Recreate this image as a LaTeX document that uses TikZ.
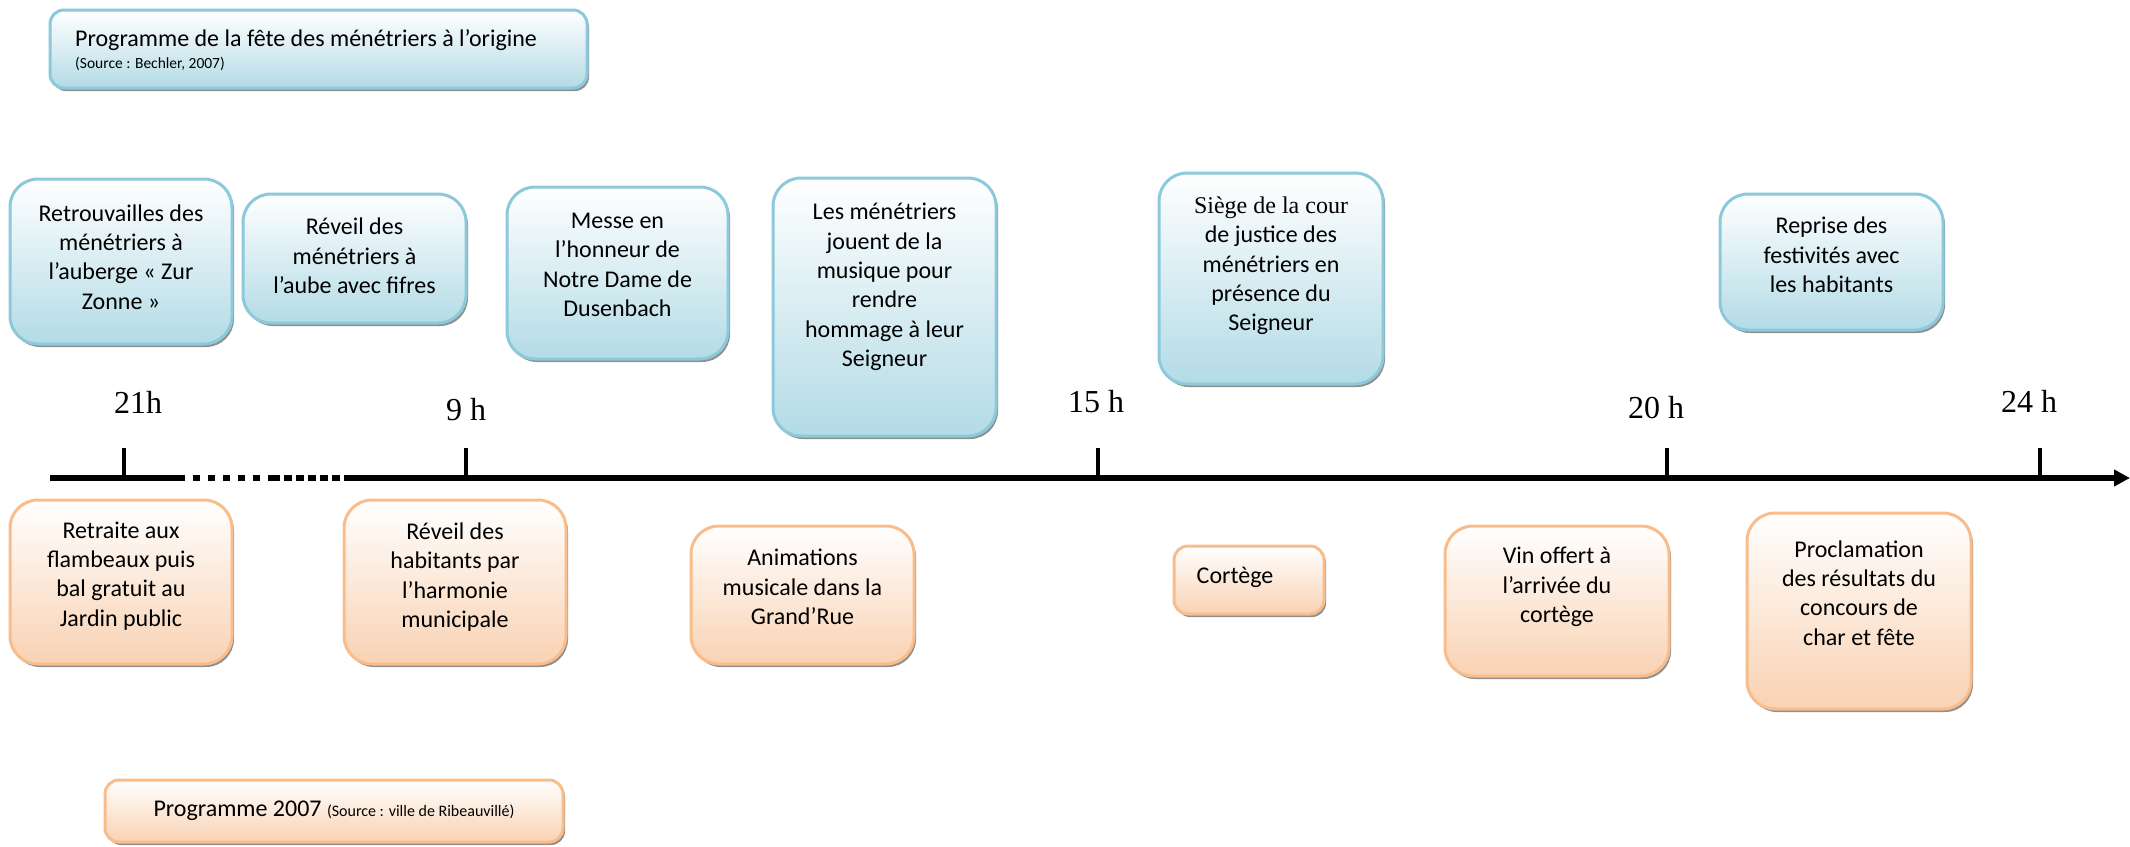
\documentclass[tikz,border=0pt]{standalone}
\usepackage{fontspec}
\setmainfont{Carlito}
\newfontfamily\tnr{Liberation Serif}
\usetikzlibrary{shadows,arrows.meta}
\definecolor{bborder}{HTML}{8CC9DA}
\definecolor{bfill}{HTML}{B3DBE6}
\definecolor{oborder}{HTML}{F9BD8C}
\definecolor{ofill}{HTML}{F9D2B3}
\tikzset{
 evbox/.style={rounded corners=28pt, line width=3pt, inner sep=0pt,
   drop shadow={shadow xshift=2pt, shadow yshift=-3pt, fill=black!55, opacity=0.8}},
 bluebox/.style={evbox, draw=bborder, top color=white, bottom color=bfill},
 orangebox/.style={evbox, draw=oborder, top color=white, bottom color=ofill},
 evtext/.style={align=center, font=\fontsize{24}{29.3}\selectfont, inner sep=0pt},
 timelabel/.style={font=\tnr\fontsize{32}{32}\selectfont, inner sep=0pt},
 tickmark/.style={line width=4pt},
 axisline/.style={line width=5.5pt},
}
\begin{document}
\begin{tikzpicture}[x=1pt,y=-1pt]
\useasboundingbox (0,0) rectangle (2130,846);

% title boxes
\node[bluebox, rounded corners=14pt, minimum width=537pt, minimum height=78pt] (tbox) at (318.5,49) {};
\node[anchor=west, inner sep=0pt, font=\fontsize{24}{27}\selectfont] (ttext) at (75,40) {Programme de la fête des ménétriers à l’origine};
\node[anchor=west, inner sep=0pt, font=\fontsize{15.5}{17}\selectfont] (tsrc) at (75,64) {(Source : Bechler, 2007)};

\node[orangebox, rounded corners=14pt, minimum width=458pt, minimum height=62pt] (pbox) at (334,811) {};
\node[inner sep=0pt] (ptext) at (334,811) {\fontsize{24}{28}\selectfont Programme 2007 \fontsize{16}{18}\selectfont(Source : ville de Ribeauvillé)};

% upper boxes
\node[bluebox, minimum width=222pt, minimum height=165pt] (b1) at (121,261.5) {};
\node[evtext] (t1) at (121,257) {Retrouvailles des\\ménétriers à\\l’auberge «~Zur\\Zonne~»};

\node[bluebox, minimum width=223pt, minimum height=129pt] (b2) at (354.5,258.5) {};
\node[evtext] (t2) at (354.5,256) {Réveil des\\ménétriers à\\l’aube avec fifres};

\node[bluebox, minimum width=221pt, minimum height=172pt] (b3) at (617.5,273) {};
\node[evtext] (t3) at (617.5,265) {Messe en\\l’honneur de\\Notre Dame de\\Dusenbach};

\node[bluebox, minimum width=223pt, minimum height=258pt] (b4) at (884.5,307) {};
\node[evtext] (t4) at (884.5,287) {Les ménétriers\\jouent de la\\musique pour\\rendre\\hommage à leur\\Seigneur};

\node[bluebox, minimum width=224pt, minimum height=211pt] (b5) at (1271,278.5) {};
\node[evtext] (t5) at (1271,266) {{\tnr Siège de la cour}\\de justice des\\ménétriers en\\présence du\\Seigneur};

\node[bluebox, minimum width=223pt, minimum height=136pt] (b6) at (1831.5,262) {};
\node[evtext] (t6) at (1831.5,255) {Reprise des\\festivités avec\\les habitants};

% time labels
\node[timelabel] (h21) at (138,402) {21h};
\node[timelabel] (h9) at (466,410) {9 h};
\node[timelabel] (h15) at (1096,402) {15 h};
\node[timelabel] (h20) at (1656,408) {20 h};
\node[timelabel] (h24) at (2029,401) {24 h};

% axis
\coordinate (ax0) at (50,478);
\coordinate (ax1) at (178,478);
\coordinate (ax2) at (272,478);
\coordinate (ax3) at (344,478);
\coordinate (axend) at (2130,478);
\draw[axisline] (ax0) -- (ax1);
\draw[axisline, dash pattern=on 7pt off 8pt] (ax1) -- (ax2);
\draw[axisline, dash pattern=on 8pt off 4pt] (ax2) -- (ax3);
\draw[axisline, -{Triangle[length=16pt,width=16pt]}] (ax3) -- (axend);

% ticks
\draw[tickmark] (124,448) -- (124,476);
\draw[tickmark] (466,448) -- (466,476);
\draw[tickmark] (1098,448) -- (1098,476);
\draw[tickmark] (1667,448) -- (1667,476);
\draw[tickmark] (2040,448) -- (2040,476);

% lower boxes
\node[orangebox, minimum width=222pt, minimum height=164pt] (o1) at (121,582) {};
\node[evtext] (u1) at (121,576) {Retraite aux\\flambeaux puis\\bal gratuit au\\Jardin public};

\node[orangebox, minimum width=222pt, minimum height=164pt] (o2) at (455,582) {};
\node[evtext] (u2) at (455,577) {Réveil des\\habitants par\\l’harmonie\\municipale};

\node[orangebox, minimum width=223pt, minimum height=138pt] (o3) at (802.5,595) {};
\node[evtext] (u3) at (802.5,587) {Animations\\musicale dans la\\Grand’Rue};

\node[orangebox, rounded corners=14pt, minimum width=150pt, minimum height=68pt] (o4) at (1249,580) {};
\node[evtext] (u4) at (1235,577) {Cortège};

\node[orangebox, minimum width=224pt, minimum height=150pt] (o5) at (1557,601) {};
\node[evtext] (u5) at (1557,587) {Vin offert à\\l’arrivée du\\cortège};

\node[orangebox, minimum width=224pt, minimum height=196pt] (o6) at (1859,611) {};
\node[evtext] (u6) at (1859,593) {Proclamation\\des résultats du\\concours de\\char et fête};
\end{tikzpicture}
\end{document}
